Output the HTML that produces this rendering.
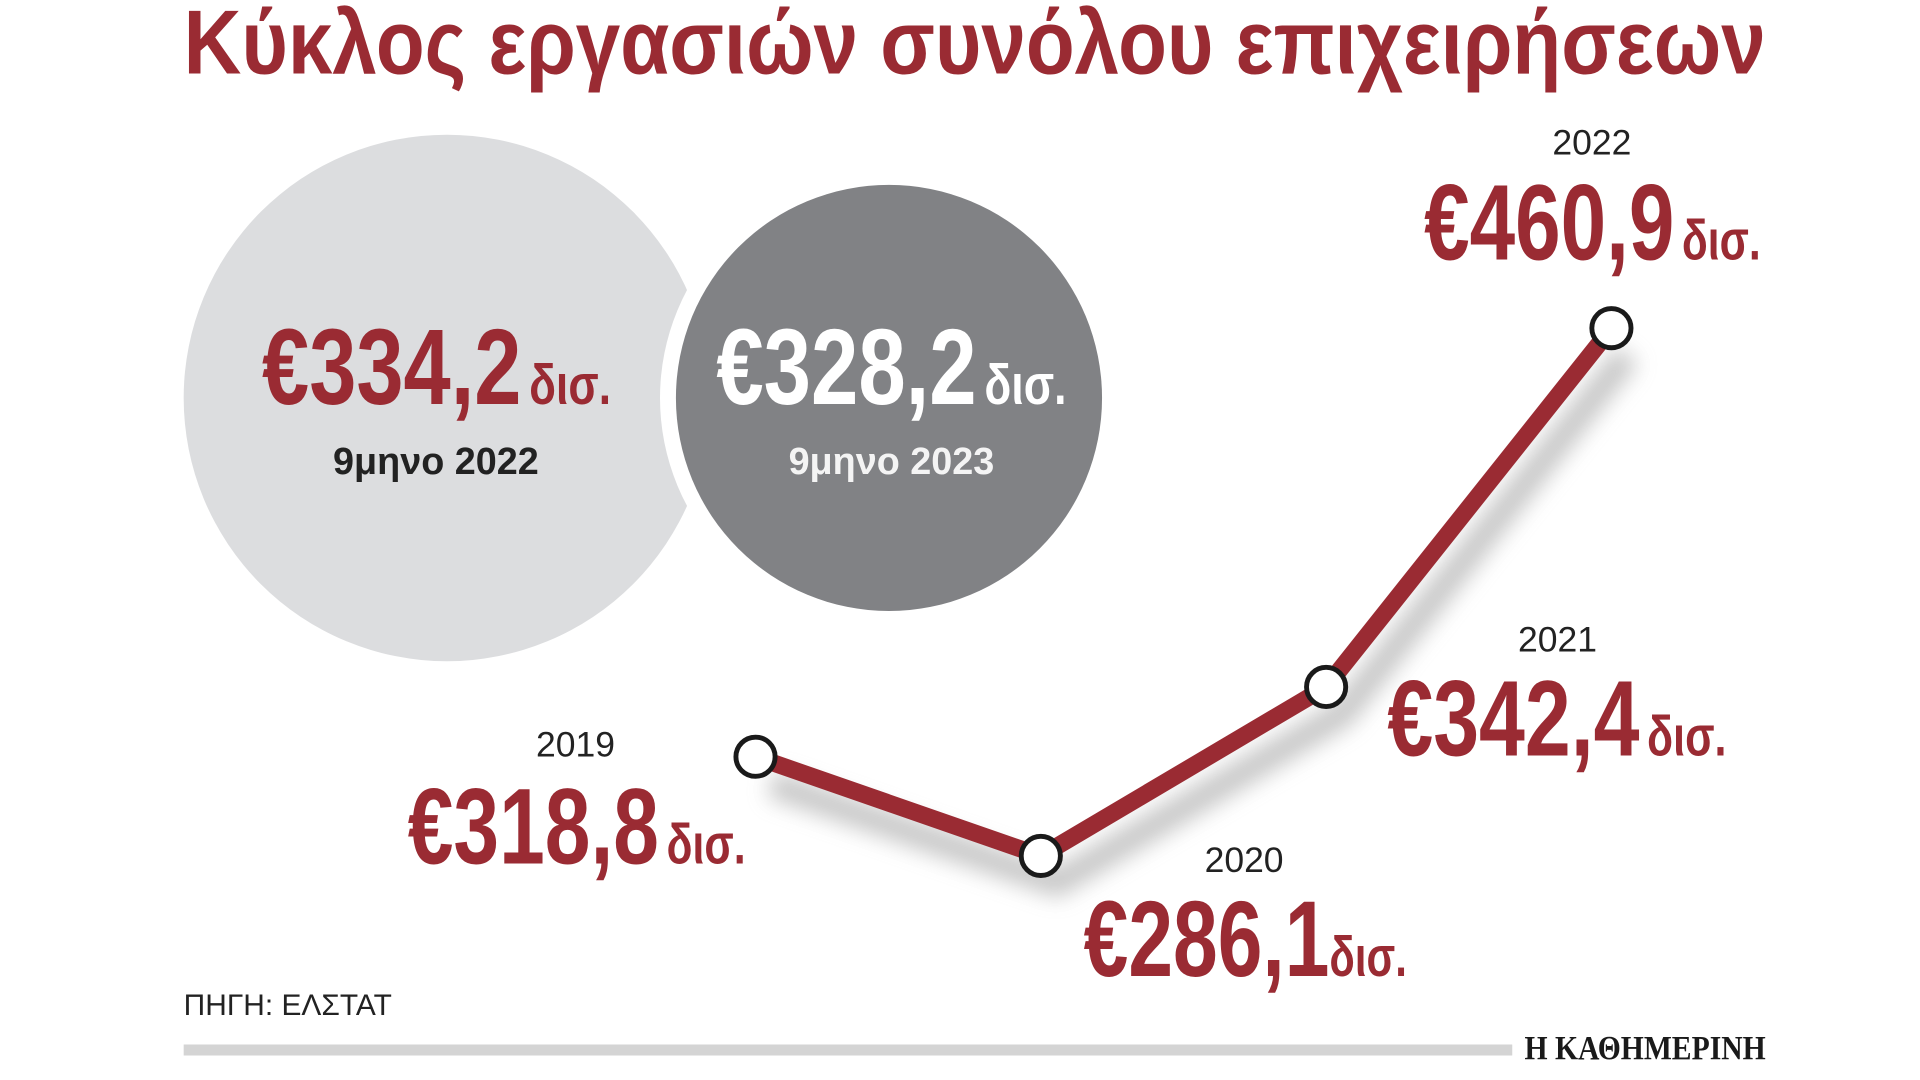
<!DOCTYPE html>
<html><head><meta charset="utf-8"><style>
html,body{margin:0;padding:0;background:#fff;width:1920px;height:1080px;overflow:hidden}
svg{display:block}
text{font-family:"Liberation Sans","DejaVu Sans",sans-serif}
text.serif{font-family:"Liberation Serif","DejaVu Serif",serif}
.big{font-weight:bold;fill:#9a2b33;font-size:88px}
.unit{font-size:46px}
.yr{font-size:29px;fill:#222}
</style></head><body>
<svg width="1920" height="1080" viewBox="0 0 1568 882" preserveAspectRatio="none">
<defs>
<filter id="sh" x="-20%" y="-20%" width="140%" height="140%"><feGaussianBlur stdDeviation="9"/></filter>
</defs>
<text x="150" y="60" font-size="74" font-weight="bold" fill="#9a2b33" textLength="1292" lengthAdjust="spacingAndGlyphs">Κύκλος εργασιών συνόλου επιχειρήσεων</text>

<circle cx="365" cy="325" r="215" fill="#dcdddf"/>
<circle cx="726" cy="325" r="187" fill="#fff"/>
<circle cx="726" cy="325" r="174" fill="#818285"/>

<text class="big" x="214" y="330" textLength="285" lengthAdjust="spacingAndGlyphs">€334,2<tspan class="unit" dx="8">δισ.</tspan></text>
<text x="272" y="387" font-size="31" font-weight="bold" fill="#222" textLength="168" lengthAdjust="spacingAndGlyphs">9μηνο 2022</text>
<text class="big" x="585" y="330" style="fill:#fff" textLength="286" lengthAdjust="spacingAndGlyphs">€328,2<tspan class="unit" dx="8">δισ.</tspan></text>
<text x="644" y="387" font-size="31" font-weight="bold" fill="#f4f4f4" textLength="168" lengthAdjust="spacingAndGlyphs">9μηνο 2023</text>

<polyline points="630,640 863,721 1096,583 1329,290" fill="none" stroke="#999" stroke-width="22" opacity="0.55" filter="url(#sh)"/>
<polyline points="617,618 850,699 1083,561 1316,268" fill="none" stroke="#9a2b33" stroke-width="14" stroke-linejoin="round"/>
<g fill="#fff" stroke="#1a1a1a" stroke-width="4">
<circle cx="617" cy="618" r="16"/><circle cx="850" cy="699" r="16"/><circle cx="1083" cy="561" r="16"/><circle cx="1316" cy="268" r="16"/>
</g>

<text class="yr" x="470" y="618" text-anchor="middle">2019</text>
<text class="big" x="333" y="705" textLength="276" lengthAdjust="spacingAndGlyphs">€318,8<tspan class="unit" dx="8">δισ.</tspan></text>
<text class="yr" x="1016" y="712" text-anchor="middle">2020</text>
<text class="big" x="885" y="797" textLength="264" lengthAdjust="spacingAndGlyphs">€286,1<tspan class="unit">δισ.</tspan></text>
<text class="yr" x="1272" y="532" text-anchor="middle">2021</text>
<text class="big" x="1133" y="617" textLength="277" lengthAdjust="spacingAndGlyphs">€342,4<tspan class="unit" dx="8">δισ.</tspan></text>
<text class="yr" x="1300" y="126" text-anchor="middle">2022</text>
<text class="big" x="1163" y="212" textLength="275" lengthAdjust="spacingAndGlyphs">€460,9<tspan class="unit" dx="8">δισ.</tspan></text>

<text x="150" y="829" font-size="24" fill="#222" textLength="170" lengthAdjust="spacingAndGlyphs">ΠΗΓΗ: ΕΛΣΤΑΤ</text>
<rect x="150" y="853" width="1085" height="9" fill="#d4d4d4"/>
<text class="serif" x="1245" y="865" font-size="28" font-weight="bold" fill="#1a1a1a" textLength="197" lengthAdjust="spacingAndGlyphs">Η ΚΑΘΗΜΕΡΙΝΗ</text>
</svg>
</body></html>
